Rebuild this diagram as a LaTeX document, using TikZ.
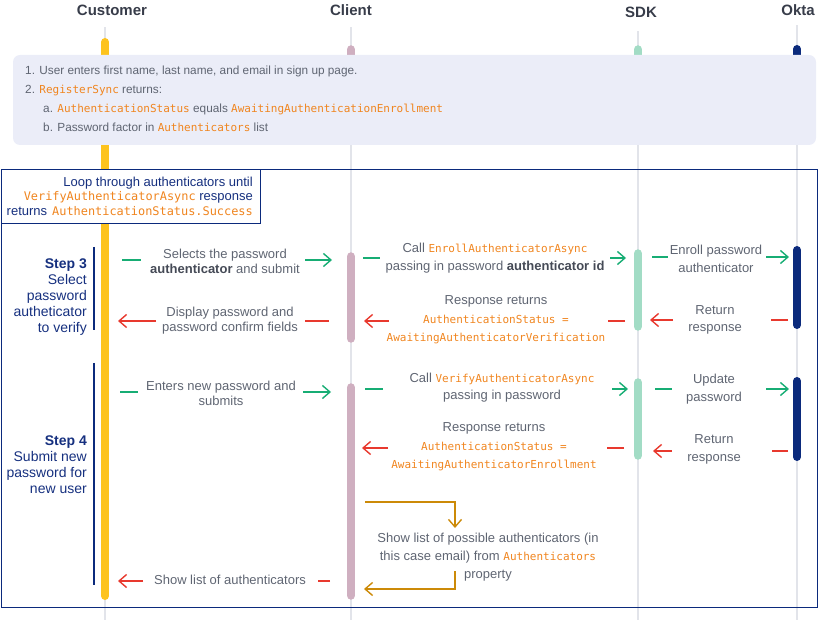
\documentclass[tikz,border=0pt]{standalone}
\usepackage{fontspec}
\setmainfont{Liberation Sans}
\newfontfamily\codefont{DejaVu Sans Mono}
\usetikzlibrary{arrows.meta}
\definecolor{cyellow}{HTML}{FDC31E}
\definecolor{cpink}{HTML}{CFAFC0}
\definecolor{cmint}{HTML}{A2DCC5}
\definecolor{cnavy}{HTML}{0B2A7C}
\definecolor{cgreen}{HTML}{17AD74}
\definecolor{cred}{HTML}{E8392E}
\definecolor{corange}{HTML}{F0851F}
\definecolor{cgold}{HTML}{CC8A08}
\definecolor{ctext}{HTML}{5F6572}
\definecolor{cbold}{HTML}{454A56}
\definecolor{chead}{HTML}{373C49}
\definecolor{cline}{HTML}{E2E4EA}
\definecolor{cnote}{HTML}{EBEDF8}
\definecolor{cstep}{HTML}{16307F}
\newcommand\cd[1]{{\codefont\fontsize{11}{13}\selectfont\color{corange}#1}}
\newcommand\cdL[1]{{\codefont\fontsize{11.9}{14}\selectfont\color{corange}#1}}
\newcommand\bt[1]{{\bfseries\color{cbold}#1}}
\begin{document}
\begin{tikzpicture}[x=1pt,y=-1pt,
  lifeline/.style={draw=cline,line width=1.5pt},
  actbar/.style={line width=8.5pt,line cap=round},
  head/.style={font=\fontsize{15}{18}\selectfont\bfseries,text=chead},
  lbl/.style={inner sep=0pt,align=center,text=ctext,font=\fontsize{13}{18}\selectfont},
  lblL/.style={lbl,font=\fontsize{13}{15}\selectfont},
  notetxt/.style={anchor=base west,inner sep=0pt,text=ctext,font=\fontsize{11.8}{14}\selectfont},
  steplbl/.style={anchor=east,align=right,inner sep=0pt,text=cstep,font=\fontsize{14}{16}\selectfont},
  stepbar/.style={draw=cnavy,line width=2.5pt},
  tipA/.style={-{Straight Barb[length=7.5pt,width=13pt]}},
  gdash/.style={draw=cgreen,line width=1.4pt},
  rdash/.style={draw=cred,line width=1.4pt},
  garr/.style={gdash,tipA},
  rarr/.style={rdash,tipA},
  oarr/.style={draw=cgold,line width=1.4pt,tipA},
]
\useasboundingbox (0,0) rectangle (820,620);
% headers
\node[head] (hcust) at (112,10) {Customer};
\node[head] (hcli) at (351,10) {Client};
\node[head] (hsdk) at (641,12) {SDK};
\node[head] (hokta) at (798,10) {Okta};
% lifelines
\coordinate (lc1) at (105,27); \coordinate (lc2) at (105,620);
\coordinate (ll1) at (351,27); \coordinate (ll2) at (351,620);
\coordinate (ls1) at (638,31); \coordinate (ls2) at (638,620);
\coordinate (lo1) at (797,25); \coordinate (lo2) at (797,620);
\draw[lifeline] (lc1) -- (lc2);
\draw[lifeline] (ll1) -- (ll2);
\draw[lifeline] (ls1) -- (ls2);
\draw[lifeline] (lo1) -- (lo2);
% top stubs
\draw[actbar,cpink] (351,49.5) -- (351,70);
\draw[actbar,cmint] (638,49.5) -- (638,70);
\draw[actbar,cnavy,line width=8pt] (797,49) -- (797,70);
% customer bar
\draw[actbar,cyellow,line width=8pt] (105,42) -- (105,596);
% activation bars step 3
\draw[actbar,cpink] (351,256.5) -- (351,338.5);
\draw[actbar,cmint] (638,253.5) -- (638,326.5);
\draw[actbar,cnavy,line width=8pt] (797,250) -- (797,325);
% activation bars step 4
\draw[actbar,cpink] (351,387.5) -- (351,595.5);
\draw[actbar,cmint] (638,382.5) -- (638,455.5);
\draw[actbar,cnavy,line width=8pt] (797,381) -- (797,457);
% note
\draw[fill=cnote,draw=none,rounded corners=7pt] (13,55) rectangle (816,145);
\node[notetxt] (n1) at (25,74.5) {1. User enters first name, last name, and email in sign up page.};
\node[notetxt] (n2) at (25,93.5) {2. \cd{RegisterSync} returns:};
\node[notetxt] (n3) at (43,112.5) {a. \cd{AuthenticationStatus} equals \cd{AwaitingAuthenticationEnrollment}};
\node[notetxt] (n4) at (43,131.5) {b. Password factor in \cd{Authenticators} list};
% loop frame
\draw[cnavy,line width=1pt] (1,170) rectangle (817,607);
\draw[cnavy,line width=1pt,fill=white] (1,170) rectangle (260,224);
\node[anchor=east,align=right,inner sep=0pt,text=cstep,font=\fontsize{13}{14.5}\selectfont] (looplbl) at (253,196)
  {Loop through authenticators until\\\cdL{VerifyAuthenticatorAsync} response\\returns\hspace{5pt}\cdL{AuthenticationStatus.Success}};
% steps
\node[steplbl] (st3) at (87,297) {\textbf{Step 3}\\Select\\password\\autheticator\\to verify};
\draw[stepbar] (94,247) -- (94,330);
\node[steplbl] (st4) at (87,465) {\textbf{Step 4}\\Submit new\\password for\\new user};
\draw[stepbar] (94,363) -- (94,585);
% M1
\coordinate (m1a) at (122,260); \coordinate (m1b) at (141,260);
\coordinate (m1c) at (305,260); \coordinate (m1d) at (332,260);
\draw[gdash] (m1a) -- (m1b); \draw[garr] (m1c) -- (m1d);
\node[lblL] (t1) at (225,261) {Selects the password\\\bt{authenticator} and submit};
% M2
\coordinate (m2a) at (363,258); \coordinate (m2b) at (380,258);
\coordinate (m2c) at (610,258); \coordinate (m2d) at (626,258);
\draw[gdash] (m2a) -- (m2b); \draw[garr] (m2c) -- (m2d);
\node[lbl] (t2) at (495,258) {Call \cd{EnrollAuthenticatorAsync}\\passing in password \bt{authenticator id}};
% M3
\coordinate (m3a) at (652,257); \coordinate (m3b) at (668,257);
\coordinate (m3c) at (766,257); \coordinate (m3d) at (789,257);
\draw[gdash] (m3a) -- (m3b); \draw[garr] (m3c) -- (m3d);
\node[lbl] (t3) at (716,259) {Enroll password\\authenticator};
% M4
\coordinate (m4a) at (788,320); \coordinate (m4b) at (771,320);
\coordinate (m4c) at (673,320); \coordinate (m4d) at (650,320);
\draw[rdash] (m4a) -- (m4b); \draw[rarr] (m4c) -- (m4d);
\node[lbl,font=\fontsize{13}{17}\selectfont] (t4) at (715,320) {Return\\response};
% M5
\coordinate (m5a) at (625,321); \coordinate (m5b) at (608,321);
\coordinate (m5c) at (389,321); \coordinate (m5d) at (364,321);
\draw[rdash] (m5a) -- (m5b); \draw[rarr] (m5c) -- (m5d);
\node[lbl,font=\fontsize{13}{18.5}\selectfont] (t5) at (496,320) {Response returns\\\cd{AuthenticationStatus =}\\\cd{AwaitingAuthenticatorVerification}};
% M6
\coordinate (m6a) at (329,321); \coordinate (m6b) at (305,321);
\coordinate (m6c) at (156,321); \coordinate (m6d) at (118,321);
\draw[rdash] (m6a) -- (m6b); \draw[rarr] (m6c) -- (m6d);
\node[lblL] (t6) at (230,321) {Display password and\\password confirm fields};
% M7
\coordinate (m7a) at (120,392); \coordinate (m7b) at (138,392);
\coordinate (m7c) at (303,392); \coordinate (m7d) at (331,392);
\draw[gdash] (m7a) -- (m7b); \draw[garr] (m7c) -- (m7d);
\node[lblL] (t7) at (221,393) {Enters new password and\\submits};
% M8
\coordinate (m8a) at (365,389); \coordinate (m8b) at (383,389);
\coordinate (m8c) at (612,389); \coordinate (m8d) at (628,389);
\draw[gdash] (m8a) -- (m8b); \draw[garr] (m8c) -- (m8d);
\node[lbl,font=\fontsize{13}{17}\selectfont] (t8) at (502,388) {Call \cd{VerifyAuthenticatorAsync}\\passing in password};
% M9
\coordinate (m9a) at (655,389); \coordinate (m9b) at (672,389);
\coordinate (m9c) at (766,389); \coordinate (m9d) at (789,389);
\draw[gdash] (m9a) -- (m9b); \draw[garr] (m9c) -- (m9d);
\node[lbl] (t9) at (714,389) {Update\\password};
% M10
\coordinate (m10a) at (788,451); \coordinate (m10b) at (772,451);
\coordinate (m10c) at (672,451); \coordinate (m10d) at (653,451);
\draw[rdash] (m10a) -- (m10b); \draw[rarr] (m10c) -- (m10d);
\node[lbl] (t10) at (714,449) {Return\\response};
% M11
\coordinate (m11a) at (624,448); \coordinate (m11b) at (607,448);
\coordinate (m11c) at (388,448); \coordinate (m11d) at (362,448);
\draw[rdash] (m11a) -- (m11b); \draw[rarr] (m11c) -- (m11d);
\node[lbl,font=\fontsize{13}{18.5}\selectfont] (t11) at (494,447) {Response returns\\\cd{AuthenticationStatus =}\\\cd{AwaitingAuthenticatorEnrollment}};
% self message
\coordinate (s1) at (365,502); \coordinate (s2) at (455,528);
\draw[oarr] (s1) -| (s2);
\node[lbl] (ts) at (488,557) {Show list of possible authenticators (in\\this case email) from \cd{Authenticators}\\property};
\coordinate (s3) at (455,571); \coordinate (s4) at (364,589);
\draw[oarr] (s3) |- (s4);
% M12
\coordinate (m12a) at (330,581); \coordinate (m12b) at (318,581);
\coordinate (m12c) at (143,581); \coordinate (m12d) at (118,581);
\draw[rdash] (m12a) -- (m12b); \draw[rarr] (m12c) -- (m12d);
\node[lblL] (t12) at (230,580) {Show list of authenticators};
\end{tikzpicture}
\end{document}
